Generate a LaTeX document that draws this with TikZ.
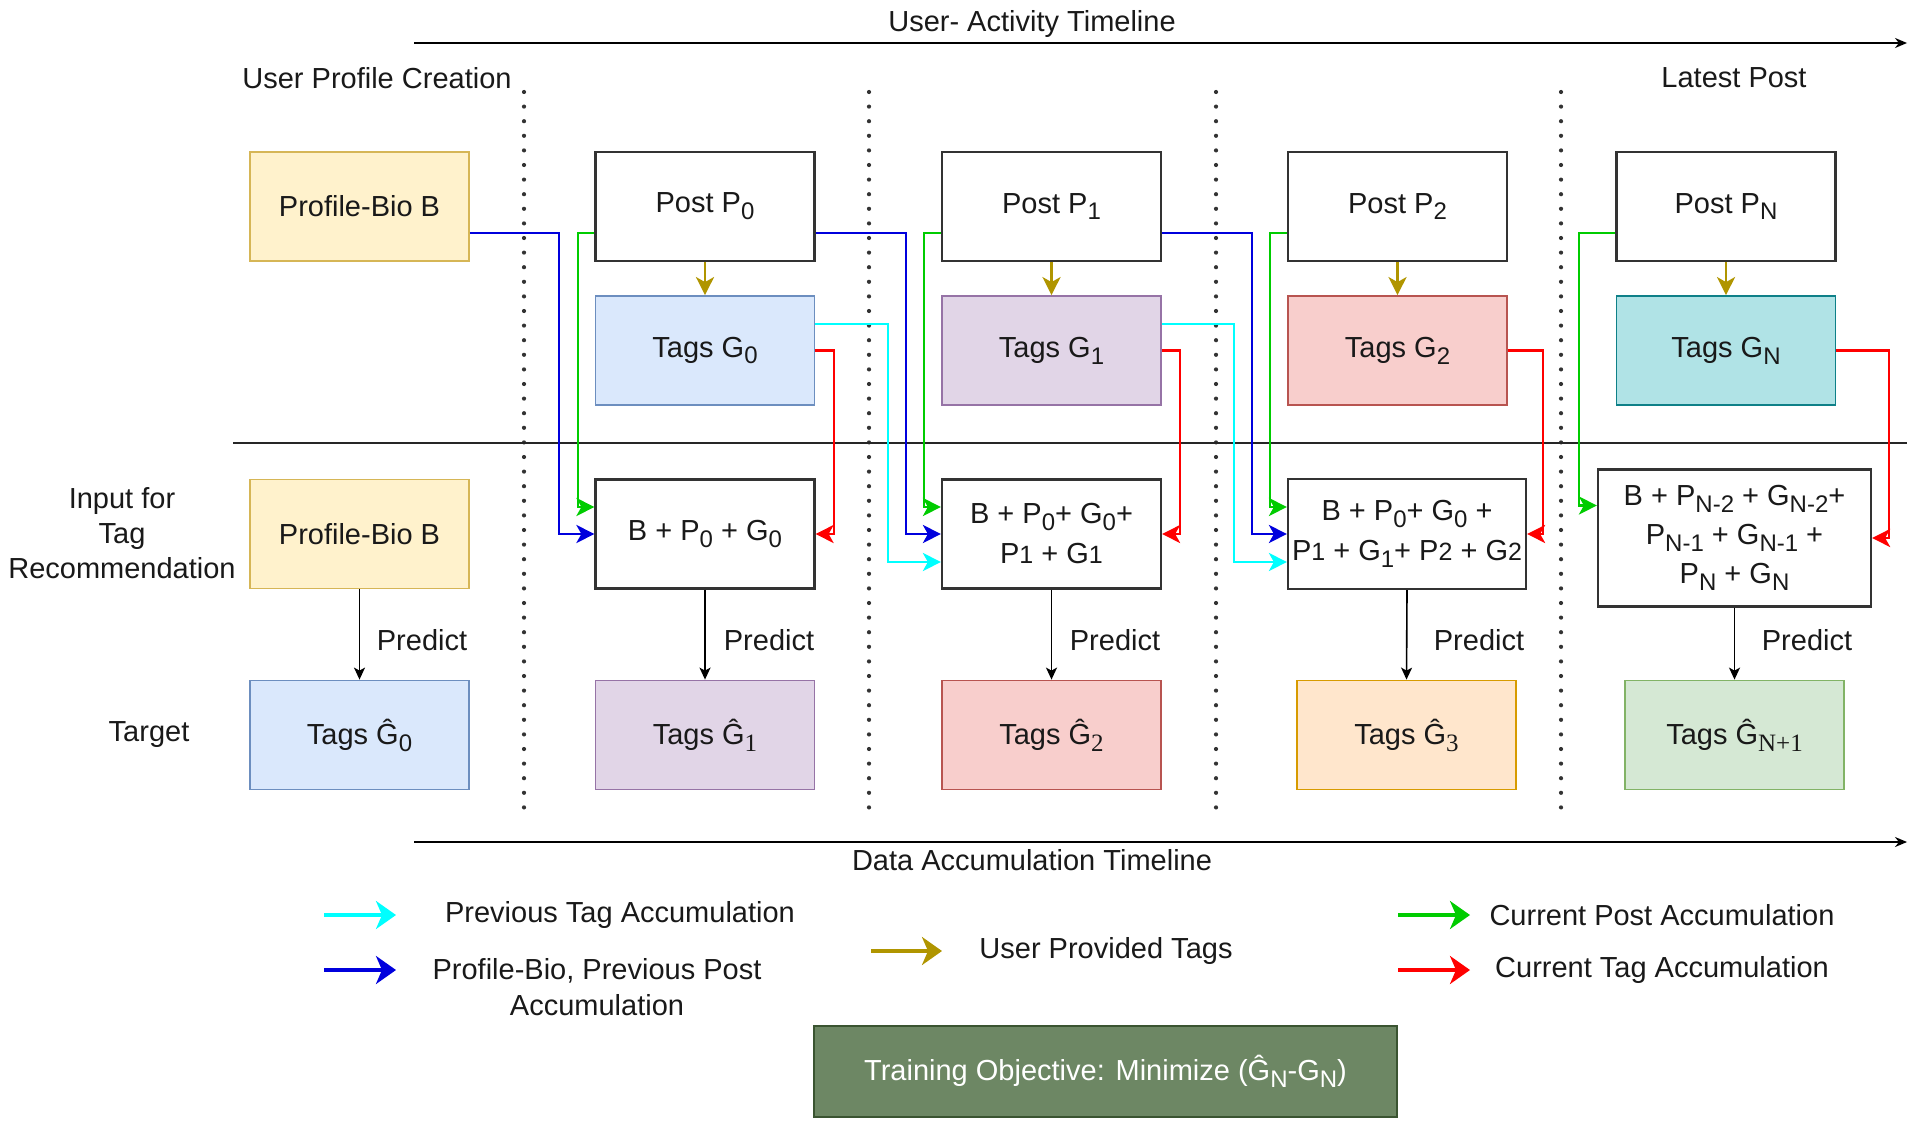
\documentclass[tikz,border=0pt]{standalone}
\usepackage{fontspec}
\setmainfont{Liberation Sans}
\newfontfamily\serifsub{Liberation Serif}
\usetikzlibrary{arrows.meta}
\definecolor{yelF}{HTML}{FFF2CC}\definecolor{yelD}{HTML}{D6B656}
\definecolor{bluF}{HTML}{DAE8FC}\definecolor{bluD}{HTML}{6C8EBF}
\definecolor{purF}{HTML}{E1D5E7}\definecolor{purD}{HTML}{9673A6}
\definecolor{redF}{HTML}{F8CECC}\definecolor{redD}{HTML}{B85450}
\definecolor{teaF}{HTML}{B0E3E6}\definecolor{teaD}{HTML}{0E8088}
\definecolor{oraF}{HTML}{FFE6CC}\definecolor{oraD}{HTML}{D79B00}
\definecolor{grnF}{HTML}{D5E8D4}\definecolor{grnD}{HTML}{82B366}
\definecolor{objF}{HTML}{6D8764}\definecolor{objD}{HTML}{3A5431}
\definecolor{cBlue}{HTML}{0000DD}
\definecolor{cGreen}{HTML}{00CC00}
\definecolor{cCyan}{HTML}{00FFFF}
\definecolor{cRed}{HTML}{FF0000}
\definecolor{cGold}{HTML}{B09500}
\newcommand\sbs[1]{\raisebox{-0.45ex}{\fontsize{12}{12}\selectfont #1}}
\newcommand\ssb[1]{\raisebox{-0.45ex}{\fontsize{12.5}{12}\selectfont\serifsub #1}}
\newcommand\smd[1]{{\fontsize{12.5}{12}\selectfont #1}}
\begin{document}
\begin{tikzpicture}[x=0.5pt,y=-0.5pt,
  every node/.style={font=\fontsize{14.5}{17.5}\selectfont, text=black!90},
  bx/.style={draw, line width=0.9pt, minimum width=109.5pt, minimum height=54.5pt, inner sep=0pt, align=center},
  wbox/.style={bx, draw=black!80, fill=white, line width=1.1pt},
  conn/.style={line width=1.45pt, -{Stealth[length=9pt,width=9pt,inset=2.5pt]}},
  cblue/.style={conn, draw=cBlue},
  cgreen/.style={conn, draw=cGreen},
  ccyan/.style={conn, draw=cCyan},
  cred/.style={conn, draw=cRed},
  cgold/.style={conn, draw=cGold},
  pred/.style={line width=0.8pt, draw=black, -{Stealth[length=6pt,width=5.5pt,inset=1.5pt]}},
  dotline/.style={line width=2.1pt, line cap=round, dash pattern=on 0pt off 7.3pt, draw=black!80},
  legarrow/.style={line width=2.4pt, -{Stealth[length=10pt,width=14pt,inset=3pt]}},
  lbl/.style={inner sep=1pt}
]
\useasboundingbox (0,0) rectangle (1920,1129);

% dotted separators
\foreach \x in {524,869,1216,1561} \draw[dotline] (\x,92) -- (\x,808);

% timelines
\coordinate (ta1) at (414,43); \coordinate (ta2) at (1907,43);
\draw[line width=0.9pt, -{Stealth[length=6pt,width=5pt]}] (ta1) -- (ta2);
\node[lbl] (tl1) at (1032,24) {User- Activity Timeline};
\coordinate (tb1) at (414,842); \coordinate (tb2) at (1907,842);
\draw[line width=0.9pt, -{Stealth[length=6pt,width=5pt]}] (tb1) -- (tb2);
\node[lbl] (tl2) at (1032,860) {Data Accumulation Timeline};

\node[lbl] (upc) at (377,78) {User Profile Creation};
\node[lbl] (lp) at (1734,78) {Latest Post};

% separator line
\draw[line width=0.9pt, black!85] (233,443) -- (1907,443);

% left labels
\node[lbl, align=center] (inp) at (122,533) {Input for\\Tag\\Recommendation};
\node[lbl] (tgt) at (149,735) {Target};

% row 1
\node[bx, fill=yelF, draw=yelD] (pb1) at (359.5,206.5) {Profile-Bio B};
\node[wbox] (p0) at (705,206.5) {Post P\sbs{0}};
\node[wbox] (p1) at (1051.5,206.5) {Post P\sbs{1}};
\node[wbox] (p2) at (1397.5,206.5) {Post P\sbs{2}};
\node[wbox] (pN) at (1726,206.5) {Post P\sbs{N}};
% row 2
\node[bx, fill=bluF, draw=bluD] (g0) at (705,350.5) {Tags G\sbs{0}};
\node[bx, fill=purF, draw=purD] (g1) at (1051.5,350.5) {Tags G\sbs{1}};
\node[bx, fill=redF, draw=redD] (g2) at (1397.5,350.5) {Tags G\sbs{2}};
\node[bx, fill=teaF, draw=teaD] (gN) at (1726,350.5) {Tags G\sbs{N}};
% row 3
\node[bx, fill=yelF, draw=yelD] (pb2) at (359.5,534) {Profile-Bio B};
\node[wbox] (b1) at (705,534) {B + P\sbs{0} + G\sbs{0}};
\node[wbox, font=\fontsize{14.5}{20}\selectfont] (b2) at (1051.5,534) {B + P\sbs{0}+ G\sbs{0}+\\P\smd{1} + G\smd{1}};
\node[wbox, minimum width=119pt, minimum height=55pt, font=\fontsize{14.5}{20}\selectfont] (b3) at (1407,534) {B + P\sbs{0}+ G\sbs{0} +\\P\smd{1} + G\sbs{1}+ P\smd{2} + G\smd{2}};
\node[wbox, minimum width=136.5pt, minimum height=68.5pt, font=\fontsize{14.5}{19.5}\selectfont] (b4) at (1734.5,538) {B + P\sbs{N-2} + G\sbs{N-2}+\\P\sbs{N-1} + G\sbs{N-1} +\\P\sbs{N} + G\sbs{N}};
% row 4
\node[bx, fill=bluF, draw=bluD] (t0) at (359.5,735) {Tags Ĝ\sbs{0}};
\node[bx, fill=purF, draw=purD] (t1) at (705,735) {Tags Ĝ\ssb{1}};
\node[bx, fill=redF, draw=redD] (t2) at (1051.5,735) {Tags Ĝ\ssb{2}};
\node[bx, fill=oraF, draw=oraD] (t3) at (1406.5,735) {Tags Ĝ\ssb{3}};
\node[bx, fill=grnF, draw=grnD] (t4) at (1734.5,735) {Tags Ĝ\ssb{N+1}};

% predict arrows
\draw[pred] (pb2.south) -- (t0.north);
\draw[pred] (b1.south) -- (t1.north);
\draw[pred] (b2.south) -- (t2.north);
\draw[pred] (b3.south) -- (t3.north);
\draw[pred] (b4.south) -- (t4.north);
\node[lbl] (pr0) at (422,640) {Predict};
\node[lbl] (pr1) at (769,640) {Predict};
\node[lbl] (pr2) at (1115,640) {Predict};
\node[lbl] (pr3) at (1479,640) {Predict};
\node[lbl] (pr4) at (1807,640) {Predict};

% gold arrows
\draw[cgold] (p0.south) -- (g0.north);
\draw[cgold] (p1.south) -- (g1.north);
\draw[cgold] (p2.south) -- (g2.north);
\draw[cgold] (pN.south) -- (gN.north);

\coordinate (r233) at (0,233);
\coordinate (r324) at (0,324);

% blue: bio / previous post
\draw[cblue] (pb1.east|-r233) -- (559,233) |- (b1.west);
\draw[cblue] (p0.east|-r233) -- (906,233) |- (b2.west);
\draw[cblue] (p1.east|-r233) -- (1252,233) |- (b3.west);

% green: current post
\draw[cgreen] (p0.west|-r233) -- (578,233) |- ([yshift=13.5pt]b1.west);
\draw[cgreen] (p1.west|-r233) -- (924,233) |- ([yshift=13.5pt]b2.west);
\draw[cgreen] (p2.west|-r233) -- (1270,233) |- ([yshift=13.5pt]b3.west);
\draw[cgreen] (pN.west|-r233) -- (1579,233) |- ([yshift=16.25pt]b4.west);

% cyan: previous tags
\draw[ccyan] (g0.east|-r324) -- (888,324) |- ([yshift=-14pt]b2.west);
\draw[ccyan] (g1.east|-r324) -- (1234,324) |- ([yshift=-14pt]b3.west);

% red: current tags
\draw[cred] (g0.east) -- (834,350.5) |- (b1.east);
\draw[cred] (g1.east) -- (1180,350.5) |- (b2.east);
\draw[cred] (g2.east) -- (1543,350.5) |- (b3.east);
\draw[cred] (gN.east) -- (1889,350.5) |- (b4.east);

% legend
\coordinate (lc1) at (324,915); \coordinate (lc2) at (396,915);
\draw[legarrow, draw=cCyan] (lc1) -- (lc2);
\node[lbl] (lt1) at (620,915) {Previous Tag Accumulation};
\coordinate (lb1) at (324,970); \coordinate (lb2) at (396,970);
\draw[legarrow, draw=cBlue] (lb1) -- (lb2);
\node[lbl, align=center, font=\fontsize{14.5}{17.75}\selectfont] (lt2) at (597,987) {Profile-Bio, Previous Post\\Accumulation};
\coordinate (lg1) at (871,951); \coordinate (lg2) at (942,951);
\draw[legarrow, draw=cGold] (lg1) -- (lg2);
\node[lbl] (lt3) at (1106,951) {User Provided Tags};
\coordinate (ln1) at (1398,915); \coordinate (ln2) at (1470,915);
\draw[legarrow, draw=cGreen] (ln1) -- (ln2);
\node[lbl] (lt4) at (1662,915) {Current Post Accumulation};
\coordinate (lr1) at (1398,970); \coordinate (lr2) at (1470,970);
\draw[legarrow, draw=cRed] (lr1) -- (lr2);
\node[lbl] (lt5) at (1662,970) {Current Tag Accumulation};

% objective
\node[bx, fill=objF, draw=objD, minimum width=291.5pt, minimum height=45.5pt, text=white] (obj) at (1105.5,1071.5) {Training Objective: Minimize (Ĝ\sbs{N}-G\sbs{N})};
\end{tikzpicture}
\end{document}
